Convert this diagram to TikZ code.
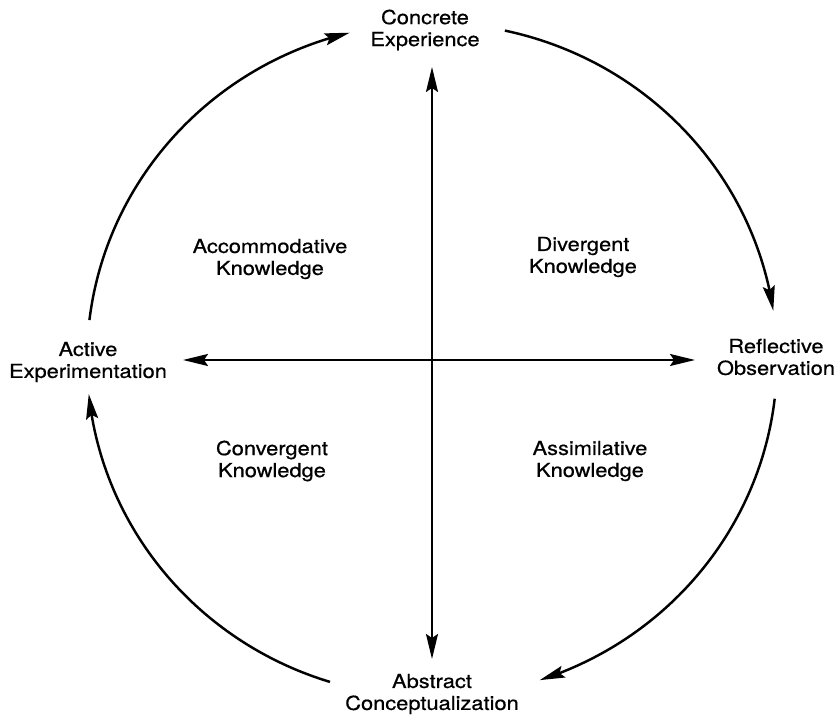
\documentclass[tikz,border=0pt]{standalone}
\usepackage{fontspec}
\setmainfont{TeX Gyre Heros}[FakeStretch=1.13,FakeBold=0.6]
\usepackage{tikz}
\usetikzlibrary{arrows.meta,bending}

\begin{document}
\begin{tikzpicture}[>={Stealth[length=5mm,width=2.4mm,inset=0.8mm]},
    lbl/.style={align=center,inner sep=0pt,font=\fontsize{11}{12.5}\selectfont},
    cyc/.style={line width=1.4pt,->},
    axis/.style={line width=1.2pt,<->}]
                \useasboundingbox (-8.64,-7.16) rectangle (8.10,7.20);
                \def\RX{6.9}
                \def\RY{6.74}
                % the four modes on the cycle
                \node[lbl] (ce) at (-0.14,6.60) {Concrete\\Experience};
                \node[lbl] (ro) at (6.88,0.06) {Reflective\\Observation};
                \node[lbl] (ac) at (0,-6.68) {Abstract\\Conceptualization};
                \node[lbl] (ae) at (-6.88,-0.04) {Active\\Experimentation};
                % kinds of knowledge
                \node[lbl] (acc) at (-3.24,2.02) {Accommodative\\Knowledge};
                \node[lbl] (div) at (3.02,2.06) {Divergent\\Knowledge};
                \node[lbl] (con) at (-3.20,-2.02) {Convergent\\Knowledge};
                \node[lbl] (ass) at (3.16,-2.02) {Assimilative\\Knowledge};
                % axes
                \coordinate (top) at (0,5.86);
                \coordinate (bot) at (0,-5.98);
                \coordinate (lft) at (-4.98,0);
                \coordinate (rgt) at (5.26,0);
                \draw[axis] (bot) -- (top);
                \draw[axis] (lft) -- (rgt);
                % the cycle
                \foreach \s/\e [count=\i] in {173.2/103.8, 77.8/8.4, -6.6/-71.8, -107.2/-174.2}
                {
                \coordinate (arc\i) at (\s:\RX cm and \RY cm);
                \draw[cyc] (arc\i) arc[start angle=\s, end angle=\e, x radius=\RX cm, y radius=\RY cm];
                }
            \end{tikzpicture}
\end{document}
